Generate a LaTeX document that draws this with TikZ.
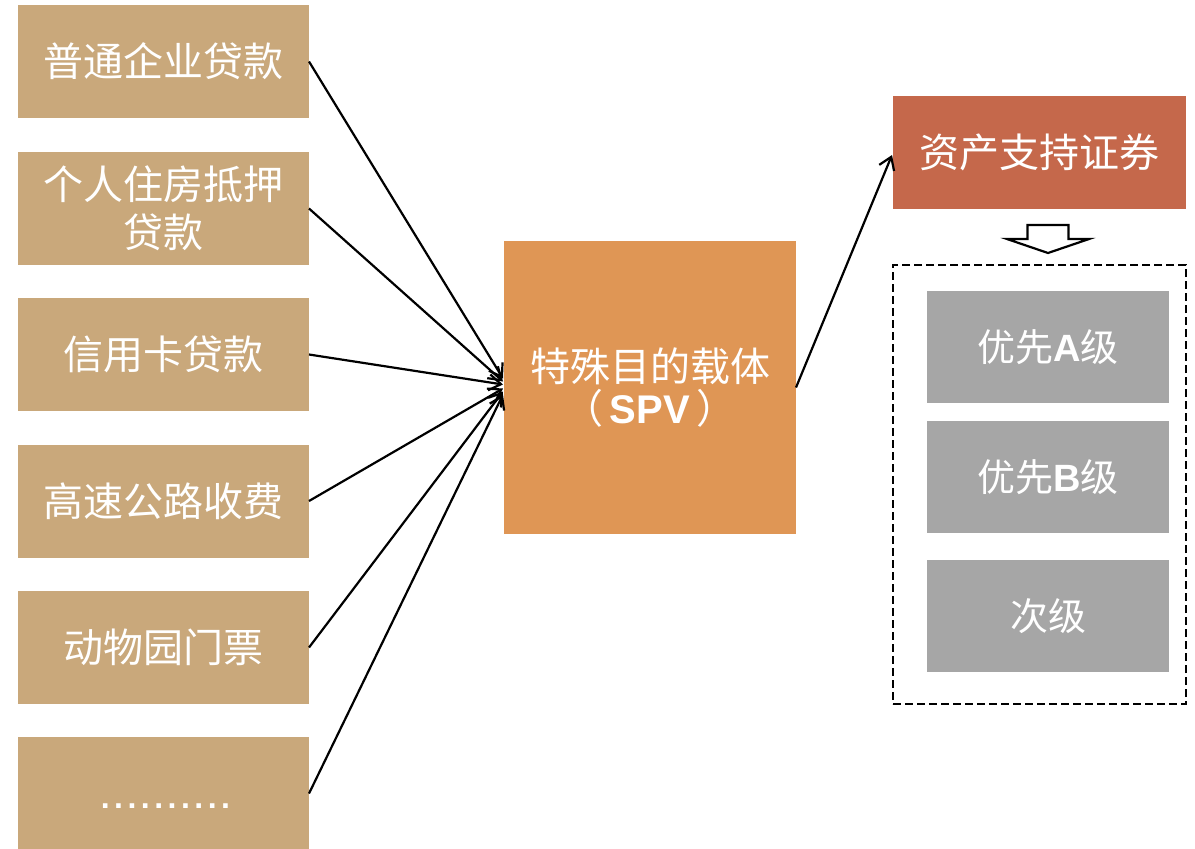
\documentclass[tikz,border=0pt]{standalone}
\usepackage{fontspec}
\newfontfamily\cjk{Noto Sans CJK SC}
\newfontfamily\lat{Liberation Sans}
\usetikzlibrary{arrows.meta,calc}
\definecolor{tanbox}{HTML}{C9A87B}
\definecolor{spvbox}{HTML}{DF9655}
\definecolor{absbox}{HTML}{C5684B}
\definecolor{tranche}{HTML}{A6A6A6}
\begin{document}
\begin{tikzpicture}[x=0.5pt,y=-0.5pt,
  srcbox/.style={fill=tanbox, inner sep=0pt, outer sep=0pt,
    minimum width=145.5pt, minimum height=56.5pt, text=white,
    font=\cjk\fontsize{20}{24}\selectfont, align=center},
  spvnode/.style={fill=spvbox, inner sep=0pt, outer sep=0pt,
    minimum width=146pt, minimum height=146.5pt, text=white,
    font=\cjk\fontsize{20}{21}\selectfont, align=center},
  absnode/.style={fill=absbox, inner sep=0pt, outer sep=0pt,
    minimum width=146.5pt, minimum height=56.5pt, text=white,
    font=\cjk\fontsize{20}{23}\selectfont},
  tranchebox/.style={fill=tranche, inner sep=0pt, outer sep=0pt,
    minimum width=121pt, minimum height=56pt, text=white,
    font=\cjk\fontsize{19}{23}\selectfont},
  groupbox/.style={draw=black, dash pattern=on 4pt off 2pt, line width=1pt,
    inner sep=0pt, outer sep=0pt, minimum width=146.5pt, minimum height=219.5pt},
  flow/.style={-{Straight Barb[length=6pt,width=8pt]}, line width=1.1pt}
]
\useasboundingbox (0,0) rectangle (1195,848);

% underlying assets
\node[srcbox] (b1) at (163.5,61.5) {普通企业贷款};
\node[srcbox] (b2) at (163.5,208.5) {个人住房抵押\\贷款};
\node[srcbox] (b3) at (163.5,354.5) {信用卡贷款};
\node[srcbox] (b4) at (163.5,501) {高速公路收费};
\node[srcbox] (b5) at (163.5,647.5) {动物园门票};
\node[srcbox] (b6) at (163.5,793.5) {};
\node[anchor=base, text=white, inner sep=0pt,
  font=\lat\bfseries\fontsize{16}{16}\selectfont\addfontfeature{LetterSpace=14}]
  (b6dots) at ($(b6.center)+(2,15)$) {..........};

% special purpose vehicle
\node[spvnode] (spv) at (650,387.5) {特殊目的载体\\（\,{\lat\bfseries SPV}\,）};

% securities and tranches
\node[absnode] (abs) at (1039.5,152) {资产支持证券};
\node[groupbox] (grp) at (1039.5,484.5) {};
\node[tranchebox] (ta) at (1048,347) {优先{\lat\bfseries A}级};
\node[tranchebox] (tb) at (1048,477) {优先{\lat\bfseries B}级};
\node[tranchebox] (tc) at (1048,616) {次级};

% hollow down arrow between securities and tranches
\coordinate (ha) at (1048,225);
\draw[line width=1.1pt, fill=white, line join=miter]
  ($(ha)+(-20.5,0)$) -- ($(ha)+(20.5,0)$) -- ($(ha)+(20.5,14)$) --
  ($(ha)+(41,14)$) -- ($(ha)+(0,28)$) -- ($(ha)+(-41,14)$) --
  ($(ha)+(-20.5,14)$) -- cycle;

% flows into the vehicle
\draw[flow] (b1.east) -- ($(spv.west)+(-1,-9)$);
\draw[flow] (b2.east) -- ($(spv.west)+(-1,-6)$);
\draw[flow] (b3.east) -- ($(spv.west)+(-1,-3)$);
\draw[flow] (b4.east) -- ($(spv.west)+(-1,1)$);
\draw[flow] (b5.east) -- ($(spv.west)+(-1,4)$);
\draw[flow] (b6.east) -- ($(spv.west)+(-1,7)$);

% vehicle issues securities
\draw[flow] (spv.east) -- ($(abs.west)+(-1,3)$);
\end{tikzpicture}
\end{document}
